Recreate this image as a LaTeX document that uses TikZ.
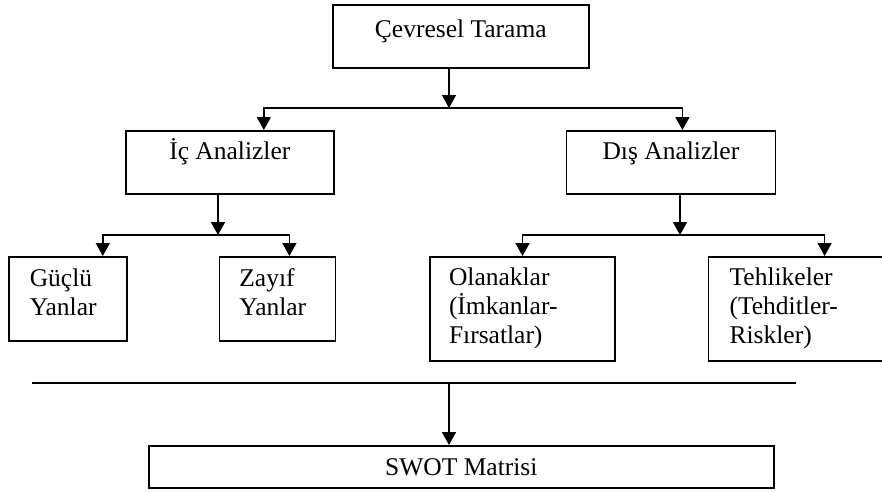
\documentclass[tikz,border=0pt]{standalone}
\usepackage{fontspec}
\setmainfont{Liberation Serif}
\usetikzlibrary{arrows.meta,positioning}
\tikzset{
    %Define standard arrow tip
    >={Triangle[width=14pt,length=13pt]},
    %Define style for boxes
    kutu/.style={
           rectangle,
           draw=black, line width=1.6pt,
           inner sep=0pt,
           font=\fontsize{25.5}{28.75}\selectfont},
    % Boxes with left aligned text
    solkutu/.style={
           kutu,
           align=left,
           inner xsep=21pt},
    % Define arrow style
    ok/.style={
           ->,
           line width=1.6pt},
    cizgi/.style={
           line width=1.6pt}
}
\begin{document}
\begin{tikzpicture}[x=1pt, y=-1pt]
        \useasboundingbox (0,0) rectangle (882,491);
        %nodes
        \node[kutu, minimum width=256pt, text height=33pt, text depth=30pt,
              anchor=north west] (cevre) at (332,4) {Çevresel Tarama};
        \node[kutu, minimum width=208pt, text height=29pt, text depth=34pt,
              anchor=north west] (ic) at (125,130) {İç Analizler};
        \node[kutu, minimum width=209pt, text height=29pt, text depth=34pt,
              right=231pt of ic] (dis) {Dış Analizler};
        \node[solkutu, text width=76pt, text height=30pt, text depth=54pt,
              anchor=north west] (guclu) at (8,256) {Güçlü\\Yanlar};
        \node[solkutu, inner xsep=20pt, text width=76pt, text height=30pt,
              text depth=54pt, right=91pt of guclu] (zayif) {Zayıf\\Yanlar};
        \node[solkutu, inner xsep=19pt, text width=147pt, text height=29pt,
              text depth=75pt, right=93pt of zayif.north east,
              anchor=north west] (olanak) {Olanaklar\\(İmkanlar-\\Fırsatlar)};
        \node[solkutu, text width=139pt, text height=29pt, text depth=75pt,
              right=92pt of olanak] (tehlike) {Tehlikeler\\(Tehditler-\\Riskler)};
        \node[kutu, minimum width=625pt, text height=30pt, text depth=12pt,
              anchor=north west] (swot) at (148,445) {SWOT Matrisi};
        %arrows
        \coordinate (j0) at (449,108);
        \draw[ok] (cevre.south -| j0) -- (j0);
        \draw[ok] (j0) -| ([xshift=34pt]ic.north);
        \draw[ok] (j0) -| ([xshift=11.5pt]dis.north);
        \coordinate (j1) at (218,235);
        \draw[ok] (ic.south -| j1) -- (j1);
        \draw[ok] (j1) -| ([xshift=35pt]guclu.north);
        \draw[ok] (j1) -| ([xshift=12pt]zayif.north);
        \coordinate (j2) at (680,235);
        \draw[ok] (dis.south -| j2) -- (j2);
        \draw[ok] (j2) -| (olanak.north);
        \draw[ok] (j2) -| ([xshift=25.5pt]tehlike.north);
        %separator
        \coordinate (ayracsol) at (32,383);
        \coordinate (ayracsag) at (796,383);
        \draw[cizgi] (ayracsol) -- (ayracsag);
        \draw[ok] (j0 |- ayracsol) -- (j0 |- swot.north);
\end{tikzpicture}
\end{document}
